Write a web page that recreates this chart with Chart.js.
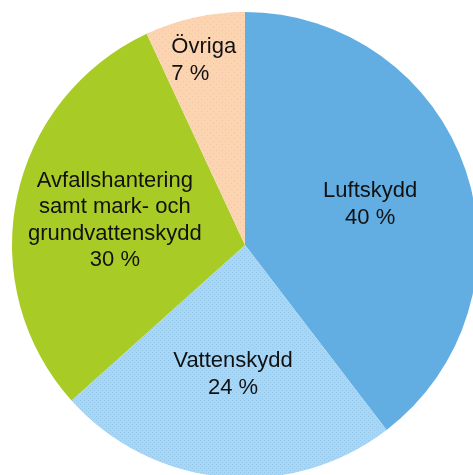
<!DOCTYPE html>
<html lang="sv">
<head>
  <meta charset="utf-8">
  <title>Miljöskyddskostnader</title>
  <style>
    html, body { margin: 0; padding: 0; background: #fff; overflow: hidden; }
    #wrap { position: absolute; left: 0; top: 0; width: 490px; height: 490px; }
  </style>
</head>
<body>
  <div id="wrap"><canvas id="chart" width="490" height="490"></canvas></div>
  <script src="https://cdn.jsdelivr.net/npm/chart.js"></script>
  <script>
    // data
    var categories = ['Luftskydd', 'Vattenskydd', 'Avfallshantering samt mark- och grundvattenskydd', 'Övriga'];
    var labelLines = [
      ['Luftskydd', '40 %'],
      ['Vattenskydd', '24 %'],
      ['Avfallshantering', 'samt mark- och', 'grundvattenskydd', '30 %'],
      ['Övriga', '7 %']
    ];
    var values = [40, 24, 30, 7];

    function dotted(base, dot, size) {
      var c = document.createElement('canvas');
      c.width = size; c.height = size;
      var g = c.getContext('2d');
      g.fillStyle = base;
      g.fillRect(0, 0, size, size);
      g.fillStyle = dot;
      g.fillRect(0, 0, 1, 1);
      g.fillRect(size / 2, size / 2, 1, 1);
      return g.createPattern(c, 'repeat');
    }

    document.addEventListener('DOMContentLoaded', function () {
      var ctx = document.getElementById('chart').getContext('2d');

      var colors = [
        '#62aee3',
        dotted('#a9d6f3', '#93c7ec', 4),
        '#a9cb26',
        dotted('#fbd4b0', '#f6bfae', 6)
      ];

      // radial placement of each label, fraction of radius
      var labelRadius = [0.567, 0.55, 0.57, 0.82];

      var sliceLabels = {
        id: 'sliceLabels',
        afterDatasetsDraw: function (chart) {
          var c = chart.ctx;
          var meta = chart.getDatasetMeta(0);
          c.save();
          c.font = '22px "Liberation Sans", Arial, sans-serif';
          c.fillStyle = '#111';
          c.textBaseline = 'alphabetic';
          meta.data.forEach(function (arc, i) {
            var p = arc.getProps(['x', 'y', 'startAngle', 'endAngle', 'outerRadius'], true);
            var mid = (p.startAngle + p.endAngle) / 2;
            var r = p.outerRadius * labelRadius[i];
            var cx = p.x + Math.cos(mid) * r;
            var cy = p.y + Math.sin(mid) * r;
            var lines = labelLines[i];
            var lh = 26.5;
            var y0 = cy - (lines.length - 1) * lh / 2 + 8;
            if (i === 3) {
              var w = Math.max.apply(null, lines.map(function (t) { return c.measureText(t).width; }));
              c.textAlign = 'left';
              lines.forEach(function (t, k) { c.fillText(t, cx - w / 2, y0 + k * lh); });
            } else {
              c.textAlign = 'center';
              lines.forEach(function (t, k) { c.fillText(t, cx, y0 + k * lh); });
            }
          });
          c.restore();
        }
      };

      new Chart(ctx, {
        type: 'pie',
        data: {
          labels: categories,
          datasets: [{
            data: values,
            backgroundColor: colors,
            borderWidth: 0
          }]
        },
        options: {
          responsive: false,
          animation: false,
          layout: { padding: 12 },
          plugins: {
            legend: { display: false },
            tooltip: { enabled: false }
          }
        },
        plugins: [sliceLabels]
      });
    });
  </script>
</body>
</html>
